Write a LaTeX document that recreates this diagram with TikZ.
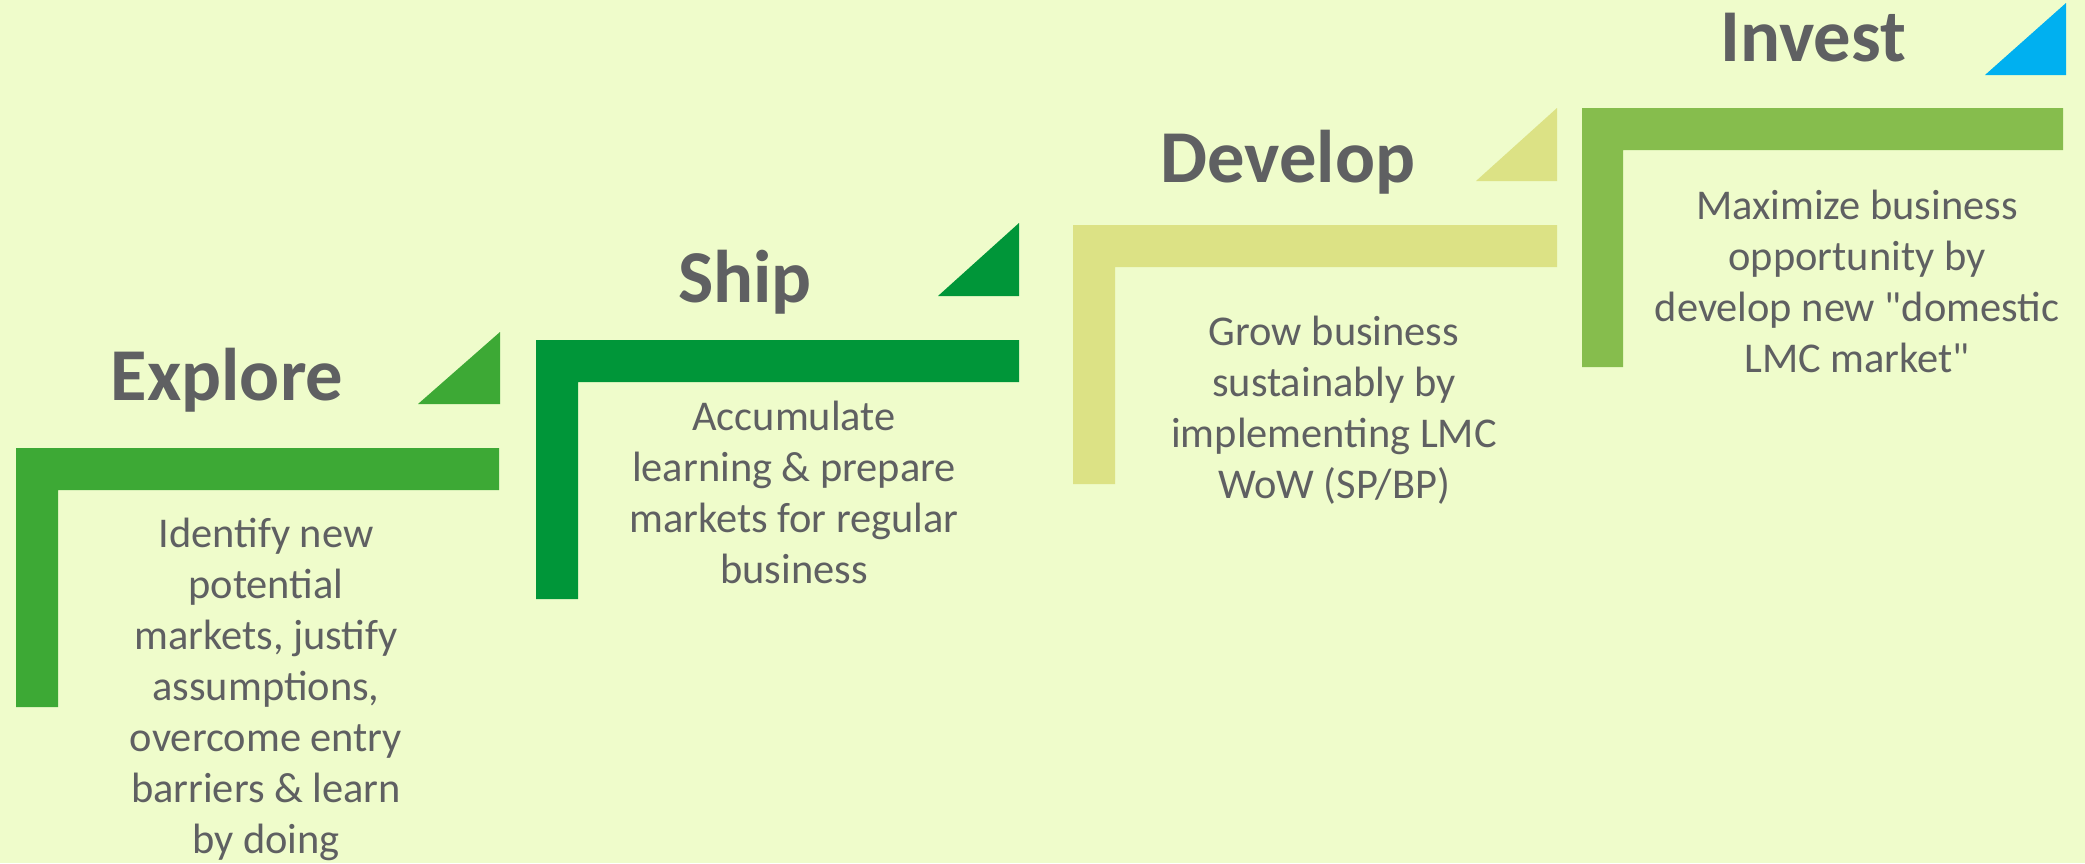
\documentclass[tikz,border=0pt]{standalone}
\usepackage{fontspec}
\setmainfont{Carlito}
\usetikzlibrary{positioning}

\definecolor{bgcol}{HTML}{EFFCCB}
\definecolor{txtgray}{HTML}{5F6062}
\definecolor{exploregreen}{HTML}{3DA935}
\definecolor{shipgreen}{HTML}{009639}
\definecolor{developolive}{HTML}{DCE285}
\definecolor{investgreen}{HTML}{86BD4D}
\definecolor{investblue}{HTML}{00B0F0}

\begin{document}
\begin{tikzpicture}[x=0.5pt, y=-0.5pt,
title/.style={anchor=base, text=txtgray, font=\fontsize{37.3}{40}\selectfont\bfseries, inner sep=0pt},
body/.style={anchor=base, text=txtgray, align=center, font=\fontsize{21.2}{25.5}\selectfont, inner sep=0pt},
]
%Background
\fill[bgcol] (0,0) rectangle (2085,863);
\useasboundingbox (0,0) rectangle (2085,863);

%Steps
\fill[exploregreen] (16,448) -- ++(483,0) -- ++(0,42) -- ++(-441,0) -- ++(0,217) -- ++(-42,0) -- cycle;
\fill[exploregreen] (500,332) -- (500,404) -- (418,404) -- cycle;
\fill[shipgreen] (536,340) -- ++(483,0) -- ++(0,42) -- ++(-441,0) -- ++(0,217) -- ++(-42,0) -- cycle;
\fill[shipgreen] (1019,223) -- (1019,296) -- (938,296) -- cycle;
\fill[developolive] (1073,225) -- ++(484,0) -- ++(0,42) -- ++(-442,0) -- ++(0,217) -- ++(-42,0) -- cycle;
\fill[developolive] (1557,108) -- (1557,181) -- (1476,181) -- cycle;
\fill[investgreen] (1582,108) -- ++(481,0) -- ++(0,42) -- ++(-440,0) -- ++(0,217) -- ++(-41,0) -- cycle;
\fill[investblue] (2066,3) -- (2066,75) -- (1985,75) -- cycle;

%Titles
\node[title] (explore) at (227,400)  {Explore};
\node[title] (ship)    at (745,302)  {Ship};
\node[title] (develop) at (1288,182) {Develop};
\node[title] (invest)  at (1813,61)  {Invest};

%Texts (base = last line)
\node[body] (exploretxt) at (266,853)  {Identify new\\potential\\markets, justify\\assumptions,\\overcome entry\\barriers \& learn\\by doing};
\node[body] (shiptxt)    at (794,583)  {Accumulate\\learning \& prepare\\markets for regular\\business};
\node[body] (developtxt) at (1334,498) {Grow business\\sustainably by\\implementing LMC\\WoW (SP/BP)};
\node[body] (investtxt)  at (1857,372) {Maximize business\\opportunity by\\develop new \textquotedbl domestic\\LMC market\textquotedbl};
\end{tikzpicture}
\end{document}
